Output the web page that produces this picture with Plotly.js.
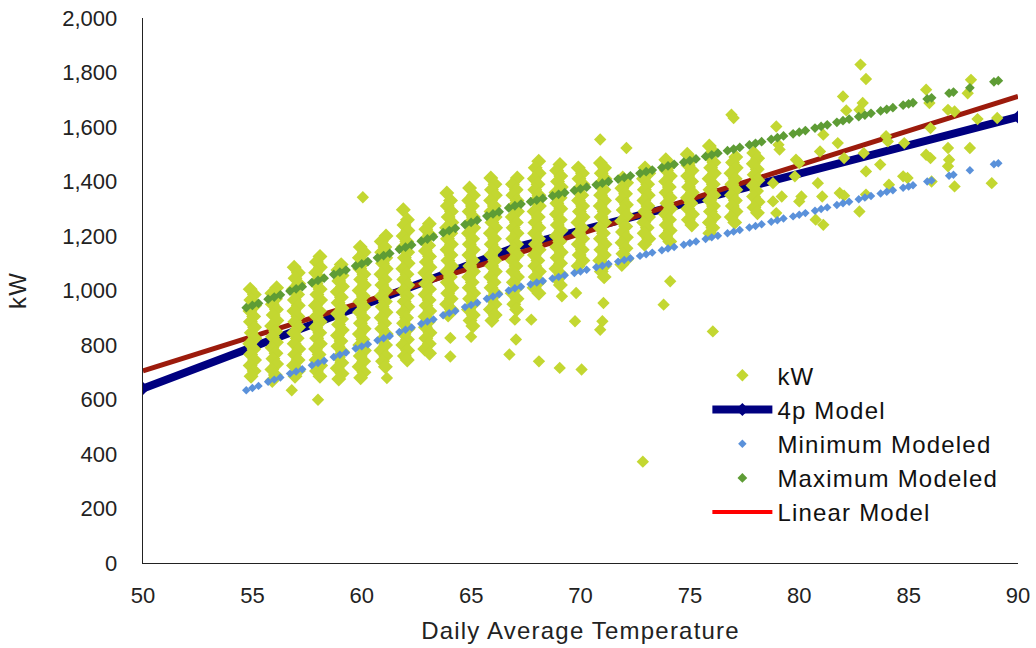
<!DOCTYPE html>
<html><head><meta charset="utf-8">
<script src="https://cdn.plot.ly/plotly-3.0.1.min.js"></script>
<style>html,body{margin:0;padding:0;background:#fff}#chart{width:1036px;height:648px}</style>
</head><body><div id="chart"></div>
<script>
// Observed kW: densely packed daily points, one line per temperature column (55 .. 78 F)
const kwColumnTemp = [
54.9,55.09,54.93,55.11,54.89,55.06,54.91,55.1,54.95,55.12,54.88,55.07,54.92,55.1,54.9,55.08,54.94,
56.11,55.89,56.06,55.91,56.1,55.95,56.12,55.88,56.07,55.92,56.1,55.9,56.08,55.94,56.11,55.89,56.05,55.91,
56.91,57.1,56.95,57.12,56.88,57.07,56.92,57.1,56.9,57.08,56.94,57.11,56.89,57.05,56.91,57.12,56.93,57.09,56.88,57.1,56.95,
58.09,57.93,58.11,57.89,58.06,57.91,58.1,57.95,58.12,57.88,58.07,57.92,58.1,57.9,58.08,57.94,58.11,57.89,58.05,57.91,58.12,57.93,58.09,
59.06,58.91,59.1,58.95,59.12,58.88,59.07,58.92,59.1,58.9,59.08,58.94,59.11,58.89,59.05,58.91,59.12,58.93,59.09,58.88,59.1,58.95,
59.93,60.11,59.89,60.06,59.91,60.1,59.95,60.12,59.88,60.07,59.92,60.1,59.9,60.08,59.94,60.11,59.89,60.05,59.91,60.12,59.93,60.09,59.88,60.1,59.95,
61.11,60.89,61.06,60.91,61.1,60.95,61.12,60.88,61.07,60.92,61.1,60.9,61.08,60.94,61.11,60.89,61.05,60.91,61.12,60.93,61.09,60.88,61.1,60.95,61.08,
61.9,62.09,61.93,62.11,61.89,62.06,61.91,62.1,61.95,62.12,61.88,62.07,61.92,62.1,61.9,62.08,61.94,62.11,61.89,62.05,61.91,62.12,61.93,62.09,61.88,62.1,61.95,62.08,
63.09,62.93,63.11,62.89,63.06,62.91,63.1,62.95,63.12,62.88,63.07,62.92,63.1,62.9,63.08,62.94,63.11,62.89,63.05,62.91,63.12,62.93,63.09,62.88,63.1,
63.89,64.06,63.91,64.1,63.95,64.12,63.88,64.07,63.92,64.1,63.9,64.08,63.94,64.11,63.89,64.05,63.91,64.12,63.93,64.09,63.88,64.1,63.95,
64.93,65.11,64.89,65.06,64.91,65.1,64.95,65.12,64.88,65.07,64.92,65.1,64.9,65.08,64.94,65.11,64.89,65.05,64.91,65.12,64.93,65.09,64.88,65.1,64.95,65.08,
65.9,66.09,65.93,66.11,65.89,66.06,65.91,66.1,65.95,66.12,65.88,66.07,65.92,66.1,65.9,66.08,65.94,66.11,65.89,66.05,65.91,66.12,65.93,66.09,65.88,66.1,65.95,
67.11,66.89,67.06,66.91,67.1,66.95,67.12,66.88,67.07,66.92,67.1,66.9,67.08,66.94,67.11,66.89,67.05,66.91,67.12,66.93,67.09,66.88,67.1,66.95,67.08,
68.09,67.93,68.11,67.89,68.06,67.91,68.1,67.95,68.12,67.88,68.07,67.92,68.1,67.9,68.08,67.94,68.11,67.89,68.05,67.91,68.12,67.93,68.09,67.88,68.1,
69.06,68.91,69.1,68.95,69.12,68.88,69.07,68.92,69.1,68.9,69.08,68.94,69.11,68.89,69.05,68.91,69.12,68.93,69.09,68.88,69.1,68.95,69.08,
69.9,70.09,69.93,70.11,69.89,70.06,69.91,70.1,69.95,70.12,69.88,70.07,69.92,70.1,69.9,70.08,69.94,70.11,69.89,
70.91,71.1,70.95,71.12,70.88,71.07,70.92,71.1,70.9,71.08,70.94,71.11,70.89,71.05,70.91,71.12,70.93,71.09,70.88,71.1,70.95,71.08,
71.93,72.11,71.89,72.06,71.91,72.1,71.95,72.12,71.88,72.07,71.92,72.1,71.9,72.08,71.94,72.11,71.89,
72.95,73.12,72.88,73.07,72.92,73.1,72.9,73.08,72.94,73.11,72.89,73.05,72.91,73.12,72.93,
73.9,74.09,73.93,74.11,73.89,74.06,73.91,74.1,73.95,74.12,73.88,74.07,73.92,74.1,73.9,74.08,
74.88,75.07,74.92,75.1,74.9,75.08,74.94,75.11,74.89,75.05,74.91,75.12,74.93,75.09,
75.89,76.06,75.91,76.1,75.95,76.12,75.88,76.07,75.92,76.1,75.9,76.08,75.94,76.11,75.89,76.05,75.91,
77.1,76.95,77.12,76.88,77.07,76.92,77.1,76.9,77.08,76.94,77.11,76.89,77.05,
77.92,78.1,77.9,78.08,77.94,78.11,77.89,78.05,77.91,78.12,77.93,78.09
];
const kwColumnLoad = [
1005,985,965,945,925,905,885,865,845,825,805,785,765,745,725,705,685,
1010,990,970,950,930,910,890,870,850,830,810,790,770,750,730,710,690,670,
1085,1065,1045,1025,1005,985,965,945,925,905,885,865,845,825,805,785,765,745,725,705,685,
1125,1105,1085,1065,1045,1025,1005,985,965,945,925,905,885,865,845,825,805,785,765,745,725,705,685,
1095,1075,1055,1035,1015,995,975,955,935,915,895,875,855,835,815,795,775,755,735,715,695,675,
1160,1140,1120,1100,1080,1060,1040,1020,1000,980,960,940,920,900,880,860,840,820,800,780,760,740,720,700,680,
1200,1180,1160,1140,1120,1100,1080,1060,1040,1020,1000,980,960,940,920,900,880,860,840,820,800,780,760,740,720,
1296,1260,1240,1220,1200,1180,1160,1140,1120,1100,1080,1060,1040,1020,1000,980,960,940,920,900,880,860,840,820,800,780,760,745,
1245,1225,1205,1185,1165,1145,1125,1105,1085,1065,1045,1025,1005,985,965,945,925,905,885,865,845,825,805,785,770,
1358,1330,1310,1290,1270,1250,1230,1210,1190,1170,1150,1130,1110,1090,1070,1050,1030,1010,990,970,950,930,910,
1376,1350,1330,1310,1290,1270,1250,1230,1210,1190,1170,1150,1130,1110,1090,1070,1050,1030,1010,990,970,950,930,910,890,870,
1413,1390,1370,1350,1330,1310,1290,1270,1250,1230,1210,1190,1170,1150,1130,1110,1090,1070,1050,1030,1010,990,970,950,930,910,890,
1413,1390,1370,1350,1330,1310,1290,1270,1250,1230,1210,1190,1170,1150,1130,1110,1090,1070,1050,1030,1010,990,970,950,930,
1474,1450,1430,1410,1390,1370,1350,1330,1310,1290,1270,1250,1230,1210,1190,1170,1150,1130,1110,1090,1070,1050,1030,1010,990,
1462,1440,1420,1400,1380,1360,1340,1320,1300,1280,1260,1240,1220,1200,1180,1160,1140,1120,1100,1080,1060,1040,1020,
1450,1430,1410,1390,1370,1350,1330,1310,1290,1270,1250,1230,1210,1190,1170,1150,1130,1110,1090,
1468,1450,1430,1410,1390,1370,1350,1330,1310,1290,1270,1250,1230,1210,1190,1170,1150,1130,1110,1090,1070,1050,
1413,1395,1375,1355,1335,1315,1295,1275,1255,1235,1215,1195,1175,1155,1135,1115,1095,
1450,1430,1410,1390,1370,1350,1330,1310,1290,1270,1250,1230,1210,1190,1170,
1480,1460,1440,1420,1400,1380,1360,1340,1320,1300,1280,1260,1240,1220,1200,1180,
1500,1480,1460,1440,1420,1400,1380,1360,1340,1320,1300,1280,1260,1240,
1530,1510,1490,1470,1450,1430,1410,1390,1370,1350,1330,1310,1290,1270,1250,1230,1210,
1490,1470,1450,1430,1410,1390,1370,1350,1330,1310,1290,1270,1250,
1505,1485,1465,1445,1425,1405,1385,1365,1345,1325,1305,1285
];

// Observed kW: isolated daily points
const kwSparseTemp = [
56.8,58,60.05,61.15,64.05,64.05,65,67,67.05,66.75,67.75,68.1,69.15,69.05,69.8,69.75,70.05,
70.9,71.05,71,70.9,72.1,72.85,73.8,74.1,76.05,76.9,77,
78.95,79.05,79.1,78.8,79.2,78.8,78.95,
79.85,80,79.8,80.1,80,
81.1,80.95,80.85,81.05,80.75,81.1,
82,82.15,81.76,82.05,81.85,82.05,
82.8,83.05,82.9,82.75,82.95,83.05,83.05,82.75,
83.97,84.05,83.7,84.1,
84.8,84.75,84.95,
85.8,85.95,86,85.8,86,86.05,
86.8,87.1,86.8,86.85,86.8,87.1,
87.85,87.7,87.8,88.15,
89.05,88.8
];
const kwSparseLoad = [
634,599,1342,679,826,758,830,893,820,765,893,740,979,716,991,887,710,
1554,954,887,856,1523,372,948,1034,850,1645,1633,
1602,1535,1517,1394,1345,1327,1284,
1480,1468,1419,1345,1327,
1572,1510,1394,1345,1260,1241,
1712,1661,1541,1486,1358,1348,
1829,1776,1688,1663,1504,1437,1352,1290,
1566,1547,1462,1388,
1541,1419,1413,
1737,1688,1596,1498,1486,1400,
1663,1657,1523,1480,1456,1382,
1773,1724,1523,1629,
1633,1394
];

// 4-parameter change-point model
const modelTemp = [50, 67, 90];
const modelLoad = [640, 1158, 1637];

// Linear model
const linTemp = [50, 90];
const linLoad = [705, 1712];

// Minimum / maximum modeled values
const modTemp = [
54.72,55,55.28, 55.72,56,56.28, 56.72,57,57.28, 57.72,58,58.28, 58.72,59,59.28,
59.72,60,60.28, 60.72,61,61.28, 61.72,62,62.28, 62.72,63,63.28, 63.72,64,64.28,
64.72,65,65.28, 65.72,66,66.28, 66.72,67,67.28, 67.72,68,68.28, 68.72,69,69.28,
69.72,70,70.28, 70.72,71,71.28, 71.72,72,72.28, 72.72,73,73.28, 73.72,74,74.28,
74.72,75,75.28, 75.72,76,76.28, 76.72,77,77.28, 77.72,78,78.28, 78.72,79,79.28,
79.72,80,80.28, 80.72,81,81.28, 81.72,82,82.28, 82.72,83,83.28, 83.72,84,84.28,
84.75,85,85.2, 85.85,86.05, 86.85,87.05, 87.8, 88.9,89.1
];
const minLoad = [
634,642,650, 665,673,681, 695,703,711, 726,734,742, 756,764,772,
787,795,803, 817,825,833, 848,856,864, 878,886,894, 909,917,925,
939,947,955, 970,978,986, 1000,1008,1014, 1023,1029,1035, 1044,1050,1056,
1064,1070,1076, 1085,1091,1097, 1106,1112,1118, 1127,1133,1139, 1148,1154,1160,
1168,1174,1180, 1189,1195,1201, 1210,1216,1222, 1231,1237,1243, 1252,1258,1264,
1272,1278,1284, 1293,1299,1305, 1314,1320,1326, 1335,1341,1347, 1356,1362,1368,
1377,1382,1386, 1400,1404, 1421,1425, 1441, 1463,1467
];
const maxLoad = [
937,945,953, 968,976,984, 998,1006,1014, 1029,1037,1045, 1059,1067,1075,
1090,1098,1106, 1120,1128,1136, 1151,1159,1167, 1181,1189,1197, 1212,1220,1228,
1242,1250,1258, 1273,1281,1289, 1303,1311,1317, 1326,1332,1338, 1347,1353,1359,
1367,1373,1379, 1388,1394,1400, 1409,1415,1421, 1430,1436,1442, 1451,1457,1463,
1471,1477,1483, 1492,1498,1504, 1513,1519,1525, 1534,1540,1546, 1555,1561,1567,
1575,1581,1587, 1596,1602,1608, 1617,1623,1629, 1638,1644,1650, 1659,1665,1671,
1680,1685,1689, 1703,1707, 1724,1728, 1744, 1766,1770
];

const FONT = 'Liberation Sans, Arial, sans-serif';
const KW_COLOR = '#C3D731';
const traces = [
  {x: modelTemp, y: modelLoad, name: '4p Model', type: 'scatter', mode: 'lines+markers',
   line: {color: '#000080', width: 8}, marker: {symbol: 'diamond', size: 10, color: '#000080'},
   legendrank: 2},
  {x: linTemp, y: linLoad, name: 'Linear Model', type: 'scatter', mode: 'lines', showlegend: false,
   line: {color: '#9C1B0C', width: 5}},
  {x: kwColumnTemp, y: kwColumnLoad, name: 'kW', type: 'scatter', mode: 'markers', showlegend: false,
   legendgroup: 'kw', marker: {symbol: 'diamond', size: 11.5, color: KW_COLOR}},
  {x: kwSparseTemp, y: kwSparseLoad, name: 'kW', type: 'scatter', mode: 'markers',
   legendgroup: 'kw', marker: {symbol: 'diamond', size: 9.5, color: KW_COLOR}, legendrank: 1},
  {x: modTemp, y: minLoad, name: 'Minimum Modeled', type: 'scatter', mode: 'markers',
   marker: {symbol: 'diamond', size: 6.5, color: '#5A91DA'}, legendrank: 3},
  {x: modTemp, y: maxLoad, name: 'Maximum Modeled', type: 'scatter', mode: 'markers',
   marker: {symbol: 'diamond', size: 7.5, color: '#5E9C35'}, legendrank: 4},
  {x: [null], y: [null], name: 'Linear Model', type: 'scatter', mode: 'lines',
   line: {color: '#FF0000', width: 4}, legendrank: 5}
];

const layout = {
  width: 1036, height: 648,
  margin: {l: 143, r: 18, t: 18, b: 85},
  paper_bgcolor: '#fff', plot_bgcolor: '#fff',
  font: {family: FONT, color: '#222'},
  showlegend: true,
  legend: {x: 0.645, y: 0.385, xanchor: 'left', yanchor: 'top', bgcolor: 'rgba(0,0,0,0)',
           font: {family: FONT, size: 24, color: '#111'}, itemwidth: 60, tracegroupgap: 0},
  xaxis: {range: [50, 90], tickvals: [50,55,60,65,70,75,80,85,90], showgrid: false, zeroline: false,
          showline: true, linecolor: '#222', linewidth: 1.3, ticks: '', ticklabelstandoff: 12,
          tickfont: {family: FONT, size: 22, color: '#222'},
          title: {text: 'Daily Average Temperature', font: {family: FONT, size: 24, color: '#222'}, standoff: 15}},
  yaxis: {range: [0, 2000], dtick: 200, tickformat: ',d', showgrid: false, zeroline: false,
          showline: true, linecolor: '#222', linewidth: 1.3, ticks: '', ticklabelstandoff: 20,
          tickfont: {family: FONT, size: 22, color: '#222'},
          title: {text: 'kW', font: {family: FONT, size: 24, color: '#222'}, standoff: 28}}
};
Plotly.newPlot('chart', traces, layout, {displayModeBar: false, staticPlot: true}).then(function () {
  document.querySelectorAll('.legendtext, .xtitle, .ytitle').forEach(function (t) {
    t.style.letterSpacing = '1.2px';
  });
  document.querySelectorAll('.legend [clip-path], .legend').forEach(function (e) {
    e.removeAttribute('clip-path');
  });
});
</script></body></html>
